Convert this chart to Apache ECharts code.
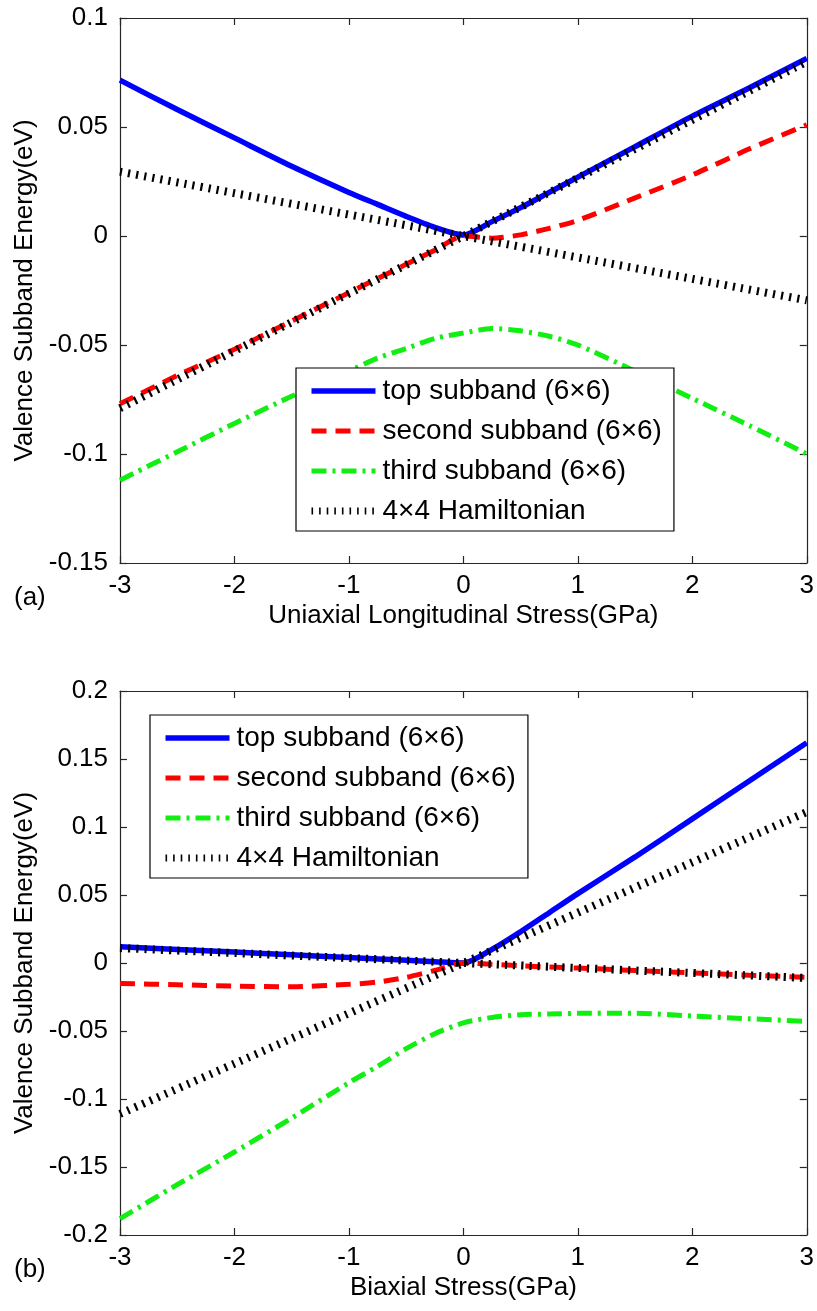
<!DOCTYPE html>
<html><head><meta charset="utf-8">
<script src="https://cdn.jsdelivr.net/npm/echarts@6/dist/echarts.min.js"></script>
<style>html,body{margin:0;padding:0;background:#fff}#c{width:817px;height:1311px}</style>
</head><body><div id="c"></div>
<script>
// ---- data ----
const stress = [-3, -2.5, -2, -1.5, -1, -0.75, -0.5, -0.25, 0, 0.25, 0.5, 0.75, 1, 1.5, 2, 2.5, 3];
// (a) uniaxial longitudinal stress
const topA    = [0.0715, 0.058, 0.045, 0.032, 0.020, 0.0145, 0.009, 0.004, 0.0005, 0.0066, 0.013, 0.020, 0.027, 0.041, 0.055, 0.068, 0.0815];
const secondA = [-0.077, -0.064, -0.052, -0.039, -0.026, -0.0195, -0.013, -0.0065, 0, -0.001, 0.0005, 0.0035, 0.0072, 0.0175, 0.028, 0.040, 0.051];
const thirdA  = [-0.112, -0.099, -0.086, -0.0735, -0.062, -0.056, -0.0516, -0.047, -0.0445, -0.0424, -0.0435, -0.046, -0.050, -0.062, -0.0745, -0.087, -0.100];
const hamX    = [-3, 0, 3];
const hamA1   = [0.0295, 0, -0.0295];
const hamA2   = [-0.079, 0, 0.080];
// (b) biaxial stress
const topB    = [0.012, 0.010, 0.008, 0.006, 0.004, 0.003, 0.002, 0.001, 0, 0.010, 0.023, 0.037, 0.051, 0.078, 0.106, 0.134, 0.162];
const secondB = [-0.015, -0.016, -0.017, -0.0175, -0.0157, -0.014, -0.0106, -0.0055, 0, -0.001, -0.002, -0.003, -0.0037, -0.0055, -0.0073, -0.009, -0.0105];
const thirdB  = [-0.188, -0.163, -0.139, -0.114, -0.088, -0.076, -0.063, -0.052, -0.044, -0.040, -0.038, -0.0375, -0.037, -0.037, -0.039, -0.041, -0.043];
const hamB1   = [-0.111, 0, 0.111];
const hamB2   = [0.011, 0, -0.011];

const names = ['top subband (6\u00d76)', 'second subband (6\u00d76)', 'third subband (6\u00d76)', '4\u00d74 Hamiltonian'];
const xTicks = [-3, -2, -1, 0, 1, 2, 3];
const yTicksA = [-0.15, -0.1, -0.05, 0, 0.05, 0.1];
const yTicksB = [-0.2, -0.15, -0.1, -0.05, 0, 0.05, 0.1, 0.15, 0.2];
const xNameA = 'Uniaxial Longitudinal Stress(GPa)';
const xNameB = 'Biaxial Stress(GPa)';
const yName = 'Valence Subband Energy(eV)';

// ---- styles ----
const FF = 'Liberation Sans, Arial, Helvetica, sans-serif';
const styles = [
  {color: '#0000ff', width: 5.5, type: 'solid'},
  {color: '#ff0000', width: 5, type: [15, 9]},
  {color: '#11ee11', width: 5, type: [15, 6, 3, 6]},
  {color: '#000000', width: 8, type: [2.2, 6]}
];
const axisCol = '#262626';

function pairs(xs, ys) { return xs.map((x, i) => [x, ys[i]]); }
function fmt(v) { return String(+v.toFixed(2)); }

function xAxes(gi) {
  const base = {type: 'value', gridIndex: gi, min: xTicks[0], max: xTicks[xTicks.length - 1], interval: 1,
    axisLine: {onZero: false, lineStyle: {color: axisCol, width: 1.2}},
    axisTick: {inside: true, length: 7, lineStyle: {color: axisCol, width: 1.2}},
    splitLine: {show: false}};
  return [
    Object.assign({}, base, {position: 'bottom',
      axisLabel: {fontFamily: FF, fontSize: 26, color: '#000', margin: 10, formatter: fmt},
      name: gi === 0 ? xNameA : xNameB, nameLocation: 'middle', nameGap: 40,
      nameTextStyle: {fontFamily: FF, fontSize: 26, color: '#000'}}),
    Object.assign({}, base, {position: 'top', axisLabel: {show: false}})
  ];
}
function yAxes(gi, ticks) {
  const base = {type: 'value', gridIndex: gi, min: ticks[0], max: ticks[ticks.length - 1], interval: 0.05,
    axisLine: {onZero: false, lineStyle: {color: axisCol, width: 1.2}},
    axisTick: {inside: true, length: 7, lineStyle: {color: axisCol, width: 1.2}},
    splitLine: {show: false}};
  return [
    Object.assign({}, base, {position: 'left',
      axisLabel: {fontFamily: FF, fontSize: 26, color: '#000', margin: 12, formatter: fmt},
      name: yName, nameLocation: 'middle', nameGap: 79, nameRotate: 90,
      nameTextStyle: {fontFamily: FF, fontSize: 26, color: '#000'}}),
    Object.assign({}, base, {position: 'right', axisLabel: {show: false}})
  ];
}

function line(name, data, st, xi, yi) {
  return {type: 'line', name, data, xAxisIndex: xi, yAxisIndex: yi, symbol: 'none', smooth: 0.25,
    lineStyle: {color: st.color, width: st.width, type: st.type}, itemStyle: {color: st.color},
    animation: false, silent: true};
}

function legendAt(left, top) {
  return {orient: 'vertical', left, top, backgroundColor: '#fff', borderColor: '#000', borderWidth: 1.2,
    padding: [8, 12, 5, 12], itemWidth: 64, itemHeight: 14, itemGap: 10, selectedMode: false,
    textStyle: {fontFamily: FF, fontSize: 28, color: '#000', lineHeight: 30, padding: [0, 0, 0, 2]},
    data: names.map((n, i) => ({name: n,
      lineStyle: {width: i === 3 ? 7 : styles[i].width, type: i === 3 ? [1.6, 6] : styles[i].type, color: styles[i].color},
      itemStyle: {color: 'rgba(0,0,0,0)', borderWidth: 0, opacity: 0}}))
  };
}

const series = [
  line(names[0], pairs(stress, topA), styles[0], 0, 0),
  line(names[1], pairs(stress, secondA), styles[1], 0, 0),
  line(names[2], pairs(stress, thirdA), styles[2], 0, 0),
  line(names[3], pairs(hamX, hamA1), styles[3], 0, 0),
  line(names[3], pairs(hamX, hamA2), styles[3], 0, 0),
  line(names[0], pairs(stress, topB), styles[0], 2, 2),
  line(names[1], pairs(stress, secondB), styles[1], 2, 2),
  line(names[2], pairs(stress, thirdB), styles[2], 2, 2),
  line(names[3], pairs(hamX, hamB1), styles[3], 2, 2),
  line(names[3], pairs(hamX, hamB2), styles[3], 2, 2)
];

const chart = echarts.init(document.getElementById('c'), null, {renderer: 'canvas'});
chart.setOption({
  backgroundColor: '#fff',
  animation: false,
  grid: [
    {left: 120, top: 18, width: 689, height: 545},
    {left: 120, top: 691, width: 689, height: 544}
  ],
  xAxis: xAxes(0).concat(xAxes(1)),
  yAxis: yAxes(0, yTicksA).concat(yAxes(1, yTicksB)),
  legend: [legendAt(296, 368), legendAt(150, 715)],
  series,
  graphic: [
    {type: 'text', left: 14, top: 585, style: {text: '(a)', fontFamily: FF, fontSize: 26, fill: '#000'}},
    {type: 'text', left: 14, top: 1257, style: {text: '(b)', fontFamily: FF, fontSize: 26, fill: '#000'}}
  ]
});
</script></body></html>
